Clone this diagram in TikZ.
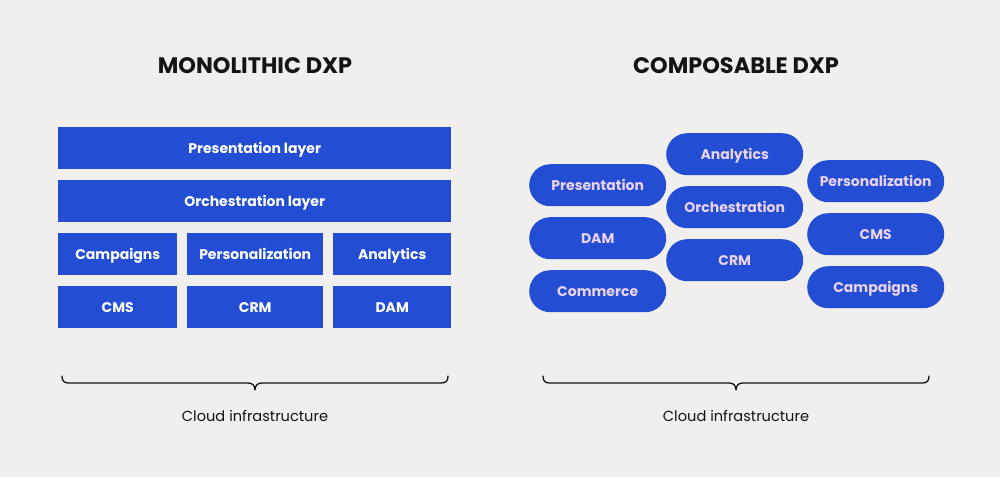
\documentclass[tikz,border=0pt]{standalone}
\usepackage{fontspec}
\setmainfont{Poppins}
\definecolor{bg}{HTML}{F0EFED}
\definecolor{dxpblue}{HTML}{234ED3}
\definecolor{pilltext}{HTML}{EBD3F0}
\definecolor{ink}{HTML}{141414}
\begin{document}
\begin{tikzpicture}[x=1pt,y=-1pt,
  box/.style={fill=dxpblue,draw=none,inner sep=0pt,anchor=north west,text=white,text height=9.8pt,text depth=0pt,font=\fontsize{14}{16}\selectfont\bfseries},
  pill/.style={fill=dxpblue,draw=none,rounded corners=21pt,inner sep=0pt,minimum width=137pt,minimum height=42pt,anchor=north west,text=pilltext,text height=9.8pt,text depth=0pt,font=\fontsize{14}{16}\selectfont\bfseries},
  title/.style={text=ink,font=\fontsize{22.4}{26}\selectfont\bfseries},
  caption/.style={text=ink,font=\fontsize{14.6}{17}\selectfont},
  bracepath/.style={draw=ink,line width=1.3pt,line cap=round,line join=round}]
\fill[bg] (0,0) rectangle (1000,477);
\useasboundingbox (0,0) rectangle (1000,477);

% titles
\node[title] (t1) at (255,66) {MONOLITHIC DXP};
\node[title] (t2) at (736,66) {COMPOSABLE DXP};

% monolithic boxes
\node[box,minimum width=393pt,minimum height=42pt] (pres) at (58,127) {Presentation layer};
\node[box,minimum width=393pt,minimum height=42pt] (orch) at (58,180) {Orchestration layer};
\node[box,minimum width=119pt,minimum height=42pt] (camp) at (58,233) {Campaigns};
\node[box,minimum width=136pt,minimum height=42pt] (pers) at (187,233) {Personalization};
\node[box,minimum width=118pt,minimum height=42pt] (anal) at (333,233) {Analytics};
\node[box,minimum width=119pt,minimum height=42pt] (cms) at (58,286) {CMS};
\node[box,minimum width=136pt,minimum height=42pt] (crm) at (187,286) {CRM};
\node[box,minimum width=118pt,minimum height=42pt] (dam) at (333,286) {DAM};

% composable pills
\node[pill] (cpres) at (529,164) {Presentation};
\node[pill] (cdam) at (529,217) {DAM};
\node[pill] (ccom) at (529,270) {Commerce};
\node[pill] (canal) at (666,133) {Analytics};
\node[pill] (corch) at (666,186) {Orchestration};
\node[pill] (ccrm) at (666,239) {CRM};
\node[pill] (cpers) at (807,160) {Personalization};
\node[pill] (ccms) at (807,213) {CMS};
\node[pill] (ccamp) at (807,266) {Campaigns};

% braces
\coordinate (b1l) at (62,376);
\coordinate (b1t) at (255,390);
\coordinate (b1r) at (448,376);
\draw[bracepath] (b1l) .. controls (62,381) and (64,383) .. (69,383) -- (248,383)
  .. controls (252,383) and (255,385) .. (b1t)
  .. controls (255,385) and (258,383) .. (262,383) -- (441,383)
  .. controls (446,383) and (448,381) .. (b1r);
\coordinate (b2l) at (543,376);
\coordinate (b2t) at (736,390);
\coordinate (b2r) at (929,376);
\draw[bracepath] (b2l) .. controls (543,381) and (545,383) .. (550,383) -- (729,383)
  .. controls (733,383) and (736,385) .. (b2t)
  .. controls (736,385) and (739,383) .. (743,383) -- (922,383)
  .. controls (927,383) and (929,381) .. (b2r);

\node[caption] (c1) at (255,416) {Cloud infrastructure};
\node[caption] (c2) at (736,416) {Cloud infrastructure};
\end{tikzpicture}
\end{document}
